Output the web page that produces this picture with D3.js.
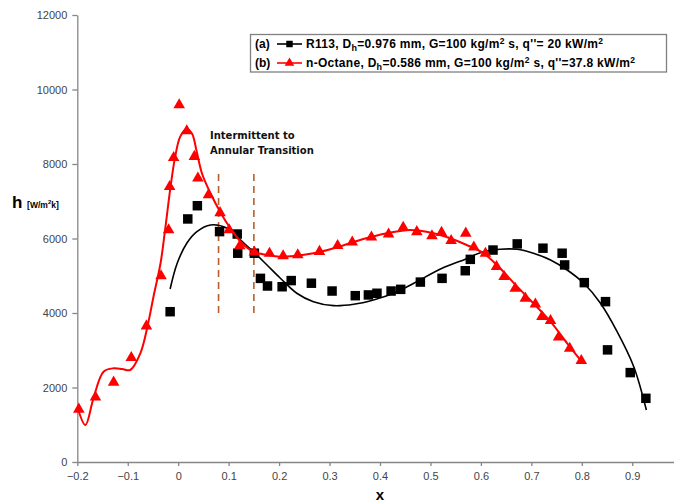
<!DOCTYPE html>
<html>
<head>
<meta charset="utf-8">
<script src="https://cdn.jsdelivr.net/npm/d3@7"></script>
<style>
    body { margin: 0; background: #fff; }
    svg { display: block; }
</style>
</head>
<body>
<div id="chart"></div>
<script>
// R113 measured points (a)
const r113X = [-0.016, 0.019, 0.038, 0.082, 0.117, 0.118, 0.151, 0.163, 0.177, 0.206, 0.224, 0.264, 0.305,
    0.351, 0.377, 0.394, 0.422, 0.441, 0.480, 0.523, 0.569, 0.579, 0.624, 0.672, 0.723, 0.761, 0.766,
    0.805, 0.847, 0.851, 0.896, 0.927];
const r113H = [4035, 6525, 6880, 6185, 6120, 5605, 5605, 4930, 4725, 4705, 4870, 4800, 4590,
    4465, 4485, 4530, 4590, 4635, 4830, 4930, 5135, 5440, 5690, 5855, 5740, 5605, 5290,
    4815, 4305, 3010, 2400, 1710];

// n-Octane measured points (b)
const octaneX = [-0.197, -0.164, -0.128, -0.093, -0.063, -0.034, -0.019, -0.017, -0.009, 0.002, 0.017, 0.032,
    0.039, 0.060, 0.083, 0.101, 0.122, 0.151, 0.181, 0.208, 0.237, 0.280, 0.316, 0.345, 0.383, 0.417,
    0.446, 0.473, 0.503, 0.522, 0.541, 0.570, 0.586, 0.609, 0.631, 0.646, 0.668, 0.688, 0.708, 0.721,
    0.738, 0.754, 0.776, 0.799];
const octaneH = [1415, 1740, 2140, 2800, 3650, 4995, 6230, 7390, 8170, 9585, 8890, 8200,
    7620, 7170, 6690, 6230, 5800, 5630, 5600, 5530, 5560, 5650, 5810, 5900, 6035, 6115,
    6300, 6180, 6070, 6160, 5940, 6140, 5765, 5600, 5245, 4975, 4660, 4395, 4240, 3900,
    3795, 3350, 3050, 2720];

// trend lines
const r113FitX = [-0.016, -0.002, 0.017, 0.037, 0.064, 0.097, 0.123, 0.149, 0.176, 0.202, 0.235, 0.268, 0.308,
    0.348, 0.387, 0.427, 0.467, 0.523, 0.569, 0.599, 0.638, 0.672, 0.704, 0.738, 0.771, 0.804, 0.837,
    0.870, 0.903, 0.928];
const r113FitH = [4645, 5335, 5872, 6184, 6364, 6275, 5961, 5647, 5289, 4940, 4530, 4304, 4197,
    4234, 4350, 4530, 4798, 5201, 5443, 5620, 5711, 5711, 5604, 5424, 5155, 4798, 4261,
    3499, 2559, 1396];

const octaneFitX = [-0.198, -0.184, -0.168, -0.148, -0.128, -0.111, -0.095, -0.075, -0.061, -0.049, -0.035,
    -0.026, -0.016, -0.006, 0.004, 0.016, 0.027, 0.036, 0.047, 0.064, 0.083, 0.103, 0.126, 0.149, 0.176,
    0.202, 0.268, 0.315, 0.367, 0.414, 0.460, 0.506, 0.539, 0.572, 0.605, 0.638, 0.672, 0.704, 0.738,
    0.771, 0.800];
const octaneFitH = [1396, 994, 1710, 2425, 2516, 2497, 2470, 2919, 3633, 4438, 5335,
    6229, 7303, 8197, 8734, 8933, 8826, 8377, 7752, 7215, 6721, 6283, 5880, 5647, 5558,
    5512, 5604, 5765, 5988, 6141, 6229, 6141, 6006, 5826, 5604, 5201, 4707, 4261, 3767,
    3187, 2693];

// transition markers
const transitionX = [0.08, 0.15];
const transitionH = [4000, 7800];

const xTicks = [-0.2, -0.1, 0, 0.1, 0.2, 0.3, 0.4, 0.5, 0.6, 0.7, 0.8, 0.9];
const yTicks = [0, 2000, 4000, 6000, 8000, 10000, 12000];

class HeatTransferChart {
    constructor(parentContainer) {
        this.parentContainer = parentContainer;
        this.initVis();
    }

    initVis() {
        let vis = this;

        vis.width = 674;
        vis.height = 504;

        vis.svg = d3.select(`#${vis.parentContainer}`)
            .append("svg")
            .attr("width", vis.width)
            .attr("height", vis.height)
            .style("font-family", "'Liberation Sans', Arial, sans-serif");

        vis.x = d3.scaleLinear().domain([-0.2, 1.0]).range([77.3, 682.7]);
        vis.y = d3.scaleLinear().domain([0, 12000]).range([462, 15]);

        vis.drawAxes();
        vis.drawTransition();
        vis.drawSeries(r113FitX, r113FitH, r113X, r113H, "#000", 1.6, d3.symbolSquare, 90);
        vis.drawSeries(octaneFitX, octaneFitH, octaneX, octaneH, "#ff0000", 2, d3.symbolTriangle, 58);
        vis.drawLegend();
    }

    drawAxes() {
        let vis = this;
        const axisColor = "#868686";

        const xAxis = vis.svg.append("g")
            .attr("transform", `translate(0, ${vis.y(0)})`)
            .call(d3.axisBottom(vis.x).tickValues(xTicks).tickSizeInner(4).tickSizeOuter(0).tickPadding(6)
                .tickFormat(d => d3.format("")(+d.toFixed(1))));
        const yAxis = vis.svg.append("g")
            .attr("transform", `translate(${vis.x(-0.2)}, 0)`)
            .call(d3.axisLeft(vis.y).tickValues(yTicks).tickSizeInner(5).tickSizeOuter(0).tickPadding(5)
                .tickFormat(d3.format("d")));

        [xAxis, yAxis].forEach(a => {
            a.select(".domain").attr("stroke", axisColor).attr("stroke-width", 1.3);
            a.selectAll(".tick line").attr("stroke", axisColor).attr("stroke-width", 1.3);
            a.selectAll(".tick text")
                .attr("fill", "#444")
                .style("font-size", "11px")
                .style("font-family", "'Liberation Sans', Arial, sans-serif");
        });

        // axis titles
        vis.svg.append("text")
            .attr("x", vis.x(0.4))
            .attr("y", 500)
            .attr("text-anchor", "middle")
            .style("font-size", "15px")
            .style("font-weight", "bold")
            .text("x");

        const yLab = vis.svg.append("text")
            .attr("x", 12)
            .attr("y", 208)
            .style("font-weight", "bold");
        yLab.append("tspan").style("font-size", "17px").text("h ");
        yLab.append("tspan").style("font-size", "8.5px").text("[W/m");
        yLab.append("tspan").style("font-size", "6px").attr("dy", -4).text("2");
        yLab.append("tspan").style("font-size", "8.5px").attr("dy", 4).text("k]");
    }

    drawTransition() {
        let vis = this;

        vis.svg.selectAll(".transition")
            .data(transitionX)
            .enter()
            .append("line")
            .attr("class", "transition")
            .attr("x1", d => vis.x(d))
            .attr("x2", d => vis.x(d))
            .attr("y1", vis.y(transitionH[0]))
            .attr("y2", vis.y(transitionH[1]))
            .attr("stroke", "#b4602e")
            .attr("stroke-width", 1.6)
            .attr("stroke-dasharray", "7,5");

        const note = vis.svg.append("text")
            .attr("x", 210)
            .style("font-family", "'DejaVu Sans', Verdana, sans-serif")
            .style("font-size", "10px")
            .style("font-weight", "bold")
            .attr("fill", "#111");
        note.append("tspan").attr("x", 210).attr("y", 139).text("Intermittent to");
        note.append("tspan").attr("x", 210).attr("y", 153.5).text("Annular Transition");
    }

    drawSeries(fitX, fitH, ptX, ptH, color, width, symbol, size) {
        let vis = this;

        const line = d3.line()
            .x(d => vis.x(d[0]))
            .y(d => vis.y(d[1]))
            .curve(d3.curveCatmullRom.alpha(0.5));

        vis.svg.append("path")
            .datum(d3.zip(fitX, fitH))
            .attr("fill", "none")
            .attr("stroke", color)
            .attr("stroke-width", width)
            .attr("d", line);

        vis.svg.append("g")
            .selectAll("path")
            .data(d3.zip(ptX, ptH))
            .enter()
            .append("path")
            .attr("transform", d => `translate(${vis.x(d[0])}, ${vis.y(d[1])})`)
            .attr("d", d3.symbol().type(symbol).size(size))
            .attr("fill", color);
    }

    drawLegend() {
        let vis = this;

        const g = vis.svg.append("g");
        g.append("rect")
            .attr("x", 250.5)
            .attr("y", 34.5)
            .attr("width", 416)
            .attr("height", 37.5)
            .attr("fill", "#fff")
            .attr("stroke", "#808080")
            .attr("stroke-width", 1.3);

        const rows = [
            {tag: "(a)", name: "R113", dh: "0.976", q: "= 20", color: "#000", symbol: d3.symbolSquare, size: 42, y: 44, w: 297},
            {tag: "(b)", name: "n-Octane", dh: "0.586", q: "=37.8", color: "#ff0000", symbol: d3.symbolTriangle, size: 40, y: 63, w: 329}
        ];

        rows.forEach(r => {
            g.append("text")
                .attr("x", 255)
                .attr("y", r.y + 4)
                .style("font-size", "12px")
                .style("font-weight", "bold")
                .text(r.tag);

            g.append("line")
                .attr("x1", 277).attr("x2", 302)
                .attr("y1", r.y).attr("y2", r.y)
                .attr("stroke", r.color)
                .attr("stroke-width", 1.6);

            g.append("path")
                .attr("transform", `translate(289.5, ${r.y})`)
                .attr("d", d3.symbol().type(r.symbol).size(r.size))
                .attr("fill", r.color);

            const t = g.append("text")
                .attr("x", 306)
                .attr("y", r.y + 4)
                .attr("textLength", r.w)
                .attr("lengthAdjust", "spacing")
                .style("font-size", "12px")
                .style("font-weight", "bold");
            t.append("tspan").text(`${r.name}, D`);
            t.append("tspan").attr("dy", 3).style("font-size", "9px").text("h");
            t.append("tspan").attr("dy", -3).text(`=${r.dh} mm, G=100 kg/m`);
            t.append("tspan").attr("dy", -4).style("font-size", "8.5px").text("2");
            t.append("tspan").attr("dy", 4).text(` s, q''${r.q} kW/m`);
            t.append("tspan").attr("dy", -4).style("font-size", "8.5px").text("2");
        });
    }
}

new HeatTransferChart("chart");
</script>
</body>
</html>
